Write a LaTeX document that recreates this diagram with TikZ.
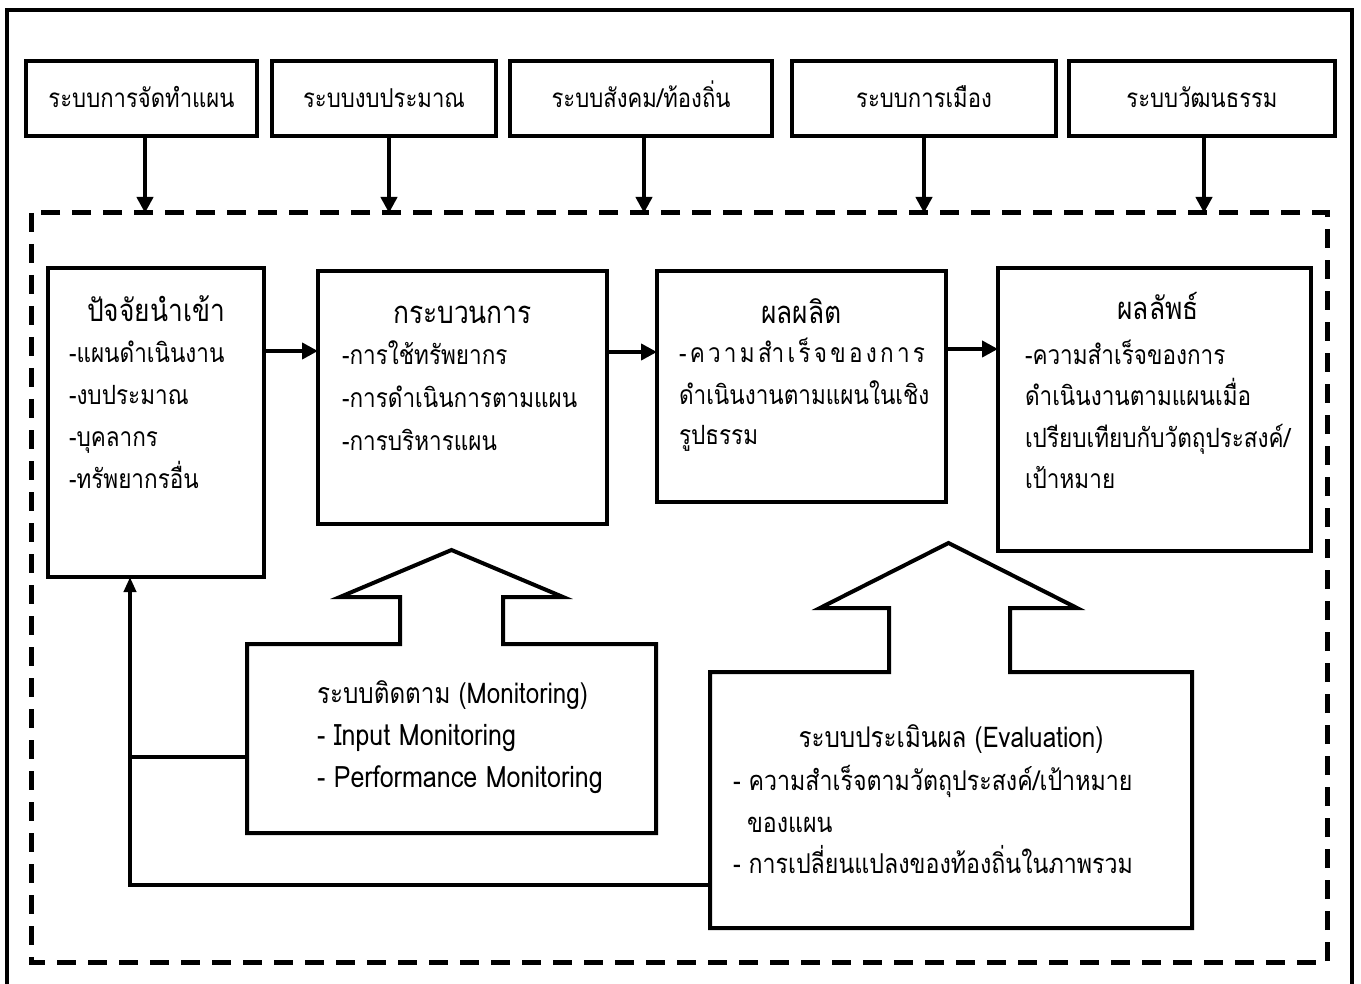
\documentclass[tikz,border=0pt]{standalone}
\usepackage{fontspec}
\setmainfont[Script=Thai,FakeStretch=0.85]{Loma}
\usetikzlibrary{arrows.meta}
\newcommand\bfnt{\fontsize{26.5}{30}\selectfont}
\newcommand\topfnt{\fontsize{26}{30}\selectfont}
\newcommand\tfnt{\fontsize{31}{34}\selectfont}
\newcommand\mtfnt{\fontsize{28.5}{32}\selectfont}
\newcommand\mlfnt{\fontsize{29.5}{32}\selectfont}
\newcommand\elfnt{\fontsize{27.3}{31}\selectfont}
\begin{document}
\begin{tikzpicture}[x=1pt,y=-1pt,
  box/.style={draw,line width=4pt,rectangle,inner sep=0pt,outer sep=0pt,anchor=north west},
  area/.style={rectangle,inner sep=0pt,outer sep=0pt,anchor=north west},
  ln/.style={line width=4pt,line join=miter},
  arr/.style={line width=4pt,-{Triangle[length=16pt,width=16pt]}},
  arrs/.style={line width=4pt,-{Triangle[length=15pt,width=12pt]}},
  dashbox/.style={line width=5pt,dash pattern=on 19pt off 12pt},
  txt/.style={inner sep=0pt,outer sep=0pt,font=\bfnt,anchor=base west},
  ctxt/.style={inner sep=0pt,outer sep=0pt,font=\topfnt,anchor=base},
  ttl/.style={inner sep=0pt,outer sep=0pt,font=\tfnt,anchor=base}]
\useasboundingbox (0,0) rectangle (1361,984);
% outer frame
\draw[ln] (7,995) -- (7,10) -- (1352,10) -- (1352,995);
% top boxes
\node[box,minimum width=231pt,minimum height=75pt] (t1) at (26,61) {};
\node[box,minimum width=224pt,minimum height=75pt] (t2) at (272,61) {};
\node[box,minimum width=262pt,minimum height=75pt] (t3) at (510,61) {};
\node[box,minimum width=264pt,minimum height=75pt] (t4) at (792,61) {};
\node[box,minimum width=266pt,minimum height=75pt] (t5) at (1069,61) {};
\node[ctxt] (tt1) at (141.5,108) {ระบบการจัดทำแผน};
\node[ctxt] (tt2) at (384,108) {ระบบงบประมาณ};
\node[ctxt] (tt3) at (641,108) {ระบบสังคม/ท้องถิ่น};
\node[ctxt] (tt4) at (924,108) {ระบบการเมือง};
\node[ctxt] (tt5) at (1202,108) {ระบบวัฒนธรรม};
% dashed area
\draw[dashbox] (31,213) rectangle (1327,962);
% top arrows
\coordinate (d1) at (145,213);
\coordinate (d2) at (389,213);
\coordinate (d3) at (644,213);
\coordinate (d4) at (924,213);
\coordinate (d5) at (1204,213);
\draw[arr] (d1 |- t1.south) -- (d1);
\draw[arr] (d2 |- t2.south) -- (d2);
\draw[arr] (d3 |- t3.south) -- (d3);
\draw[arr] (d4 |- t4.south) -- (d4);
\draw[arr] (d5 |- t5.south) -- (d5);
% inner boxes
\node[box,minimum width=216pt,minimum height=309pt] (in) at (48,268) {};
\node[box,minimum width=289pt,minimum height=253pt] (pr) at (318,271) {};
\node[box,minimum width=289pt,minimum height=231pt] (op) at (657,271) {};
\node[box,minimum width=313pt,minimum height=283pt] (oc) at (998,268) {};
% arrows between
\coordinate (a1) at (0,351);
\coordinate (a2) at (0,352);
\coordinate (a3) at (0,349);
\draw[arr] (in.east |- a1) -- (pr.west |- a1);
\draw[arr] (pr.east |- a2) -- (op.west |- a2);
\draw[arr] (op.east |- a3) -- (oc.west |- a3);
% titles
\node[ttl] (inT) at (156,322) {ปัจจัยนำเข้า};
\node[ttl] (prT) at (462.5,324) {กระบวนการ};
\node[ttl] (opT) at (801.5,324) {ผลผลิต};
\node[ttl] (ocT) at (1158,320) {ผลลัพธ์};
% input lines
\foreach \t [count=\i] in {-แผนดำเนินงาน,-งบประมาณ,-บุคลากร,-ทรัพยากรอื่น}
  \node[txt] (inL\i) at (69,{363+41.7*(\i-1)}) {\t};
\foreach \t [count=\i] in {-การใช้ทรัพยากร,-การดำเนินการตามแผน,-การบริหารแผน}
  \node[txt] (prL\i) at (342,{365+42.5*(\i-1)}) {\t};
\node[txt] (opL1) at (679,363) {\makebox[246pt][s]{-\hfil ค\hfil ว\hfil า\hfil ม\hfil สำ\hfil เ\hfil ร็\hfil จ\hfil ข\hfil อ\hfil ง\hfil ก\hfil า\hfil ร}};
\node[txt] (opL2) at (679,405) {ดำเนินงานตามแผนในเชิง};
\node[txt] (opL3) at (679,444) {รูปธรรม};
\foreach \t [count=\i] in {-ความสำเร็จของการ,ดำเนินงานตามแผนเมื่อ,เปรียบเทียบกับวัตถุประสงค์/,เป้าหมาย}
  \node[txt] (ocL\i) at (1025,{365+41*(\i-1)}) {\t};
% monitoring block arrow
\node[area,minimum width=409pt,minimum height=189pt] (mon) at (247,644) {};
\draw[ln] (247,644) -- (400,644) -- (400,597) -- (340,597) -- (451.5,550) -- (563,597) -- (503,597) -- (503,644) -- (656,644) -- (656,833) -- (247,833) -- cycle;
\node[txt,font=\mtfnt] (monT) at (317,703) {ระบบติดตาม (Monitoring)};
\node[txt,font=\mlfnt] (monL1) at (317,745) {- Input Monitoring};
\node[txt,font=\mlfnt] (monL2) at (317,787) {- Performance Monitoring};
% evaluation block arrow
\node[area,minimum width=482pt,minimum height=256pt] (ev) at (710,672) {};
\draw[ln] (710,672) -- (889,672) -- (889,608) -- (820,608) -- (948.5,543) -- (1077,608) -- (1010,608) -- (1010,672) -- (1192,672) -- (1192,928) -- (710,928) -- cycle;
\node[ctxt,font=\mtfnt] (evT) at (951,747) {ระบบประเมินผล (Evaluation)};
\node[txt,font=\elfnt] (evL1) at (733,790) {- ความสำเร็จตามวัตถุประสงค์/เป้าหมาย};
\node[txt,font=\elfnt] (evL2) at (747,832) {ของแผน};
\node[txt,font=\elfnt] (evL3) at (733,873) {- การเปลี่ยนแปลงของท้องถิ่นในภาพรวม};
% feedback
\coordinate (fb) at (130,885);
\coordinate (m1) at (130,757);
\draw[arrs] (ev.west |- fb) -- (fb) -- (fb |- in.south);
\draw[ln] (mon.west |- m1) -- (m1);
\end{tikzpicture}
\end{document}
